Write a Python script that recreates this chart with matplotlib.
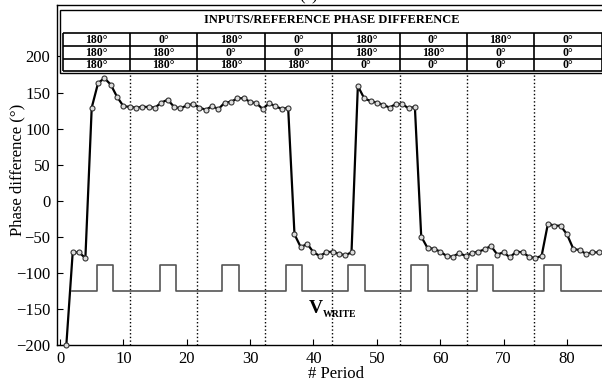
import numpy as np
import matplotlib
matplotlib.use('Agg')
import matplotlib.pyplot as plt
from matplotlib.patches import Rectangle

plt.rcParams['font.family'] = ['Liberation Serif', 'DejaVu Serif']

# phase difference measured at each write period
period = np.arange(1, 86)
phase = [-200, -72, -72, -80, 129, 163, 170, 161, 144, 131,
         130, 129, 130, 130, 129, 136, 140, 130, 128, 132,
         134, 129, 126, 131, 127, 136, 137, 142, 142, 137,
         135, 127, 135, 131, 127, 129, -47, -65, -60, -72,
         -77, -72, -71, -74, -76, -72, 159, 142, 138, 136,
         133, 129, 134, 134, 128, 130, -50, -66, -67, -71,
         -77, -78, -73, -77, -73, -71, -68, -63, -75, -72,
         -79, -71, -72, -78, -80, -77, -32, -35, -35, -47,
         -67, -69, -74, -72, -72]

# V_WRITE pulse train (rising edges and pulse width, in periods)
pulse_start = [5.8, 15.7, 25.6, 35.6, 45.5, 55.4, 65.8, 76.4]
pulse_width = 2.6
pulse_low, pulse_high = -125, -90
pulse_first, pulse_last = 1.85, 86

# inputs/reference phase difference table
table_title = 'INPUTS/REFERENCE PHASE DIFFERENCE'
table_rows = [
    ['180°', '0°', '180°', '0°', '180°', '0°', '180°', '0°'],
    ['180°', '180°', '0°', '0°', '180°', '180°', '0°', '0°'],
    ['180°', '180°', '180°', '180°', '0°', '0°', '0°', '0°'],
]

fig = plt.figure(figsize=(6.02, 3.83), dpi=100)
ax = fig.add_axes([0.0952, 0.1005, 0.907, 0.8864])
xmin, xmax = -0.43, 85.74
ax.set_xlim(xmin, xmax)
ax.set_ylim(-200, 271.5)

# write pulses
px = [pulse_first]
py = [pulse_low]
for s in pulse_start:
    px += [s, s, s + pulse_width, s + pulse_width]
    py += [pulse_low, pulse_high, pulse_high, pulse_low]
px.append(pulse_last)
py.append(pulse_low)
ax.plot(px, py, color='#555555', lw=1.2, zorder=2)

# measured phase difference
ax.plot(period, phase, color='black', lw=1.6, marker='o', ms=3.6,
        mfc='#dddddd', mec='#333333', mew=0.8, zorder=5, clip_on=False)

# table box
col_edges = np.linspace(0.4, 85.5, 9)
row_edges = [232, 214.6, 197, 180]
box_bottom, box_top = 177.5, 264.6
ax.vlines(col_edges[1:-1], -200, box_bottom, colors='black', linestyles=':', lw=1.0, zorder=1)
ax.add_patch(Rectangle((0, box_bottom), xmax + 2, box_top - box_bottom,
                       facecolor='white', edgecolor='black', lw=1.0, zorder=3, clip_on=False))
ax.hlines(row_edges, col_edges[0], col_edges[-1], colors='black', lw=1.2, zorder=4)
ax.vlines(col_edges, row_edges[-1], row_edges[0], colors='black', lw=1.2, zorder=4)
ax.text((col_edges[0] + col_edges[-1]) / 2, 250.7, table_title, ha='center', va='center',
        fontsize=9, fontweight='bold', zorder=6)
for r, row in enumerate(table_rows):
    yc = (row_edges[r] + row_edges[r + 1]) / 2
    for c, val in enumerate(row):
        xc = (col_edges[c] + col_edges[c + 1]) / 2
        ax.text(xc, yc - 0.5, val, ha='center', va='center', fontsize=8.5,
                fontweight='bold', zorder=6)

# V_WRITE label
ax.text(39.2, -156, 'V', fontsize=14, fontweight='bold', ha='left', va='baseline')
ax.text(41.5, -162, 'WRITE', fontsize=7, fontweight='bold', ha='left', va='baseline')

ax.set_xticks(range(0, 90, 10))
ax.set_yticks(range(-200, 201, 50))
ax.tick_params(direction='in', length=4, labelsize=12, width=0.8)
ax.tick_params(axis='y', pad=5)
ax.tick_params(axis='x', pad=4.5)
for sp in ax.spines.values():
    sp.set_linewidth(1.0)
ax.set_xlabel('# Period', fontsize=12)
ax.set_ylabel('Phase difference (°)', fontsize=12)
ax.xaxis.set_label_coords(0.51, -0.064)
ax.yaxis.set_label_coords(-0.058, 0.515)

fig.text(0.512, 1.0, '(a)', fontsize=12, ha='center', va='baseline')

plt.savefig('out.png', dpi=100)
plt.close('all')
